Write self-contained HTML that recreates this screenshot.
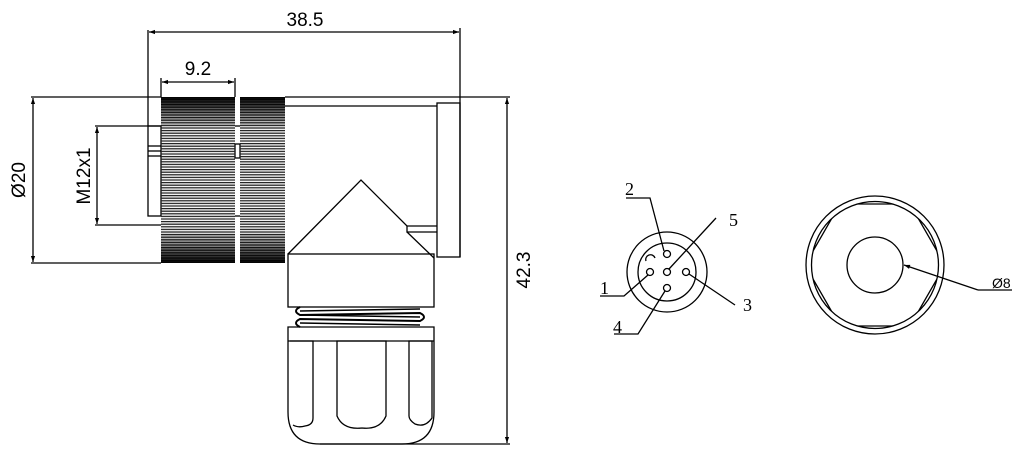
<!DOCTYPE html>
<html><head><style>
html,body{margin:0;padding:0;background:#fff;}
svg{display:block;}
text{font-family:"Liberation Sans",sans-serif;fill:#000;}
.s{font-family:"Liberation Serif",serif;}
</style></head><body>
<svg width="1024" height="455" viewBox="0 0 1024 455" xmlns="http://www.w3.org/2000/svg">
<defs>
<pattern id="kn" width="4" height="2.6" patternUnits="userSpaceOnUse">
<rect width="4" height="1.2" fill="#222"/>
</pattern>
<linearGradient id="sh" x1="0" y1="0" x2="0" y2="1">
<stop offset="0" stop-color="#000" stop-opacity="1"/>
<stop offset="0.08" stop-color="#000" stop-opacity="0.6"/>
<stop offset="0.2" stop-color="#000" stop-opacity="0.05"/>
<stop offset="0.8" stop-color="#000" stop-opacity="0.05"/>
<stop offset="0.92" stop-color="#000" stop-opacity="0.6"/>
<stop offset="1" stop-color="#000" stop-opacity="1"/>
</linearGradient>
<clipPath id="cc"><circle cx="875" cy="265" r="63.5"/></clipPath>
<marker id="a" viewBox="0 0 10 10" refX="10" refY="5" markerWidth="9" markerHeight="6" orient="auto-start-reverse" markerUnits="userSpaceOnUse"><path d="M0,1.5 L10,5 L0,8.5 z" fill="#000"/></marker>
</defs>
<g fill="none" stroke="#000" stroke-width="1.3">
<line x1="148" y1="30" x2="148" y2="126"/>
<line x1="460" y1="28" x2="460" y2="257"/>
<line x1="149" y1="32" x2="459" y2="32" marker-start="url(#a)" marker-end="url(#a)"/>
<line x1="161" y1="78" x2="161" y2="97"/>
<line x1="235" y1="78" x2="235" y2="97"/>
<line x1="162" y1="82" x2="234" y2="82" marker-start="url(#a)" marker-end="url(#a)"/>
<line x1="31" y1="97" x2="161" y2="97"/>
<line x1="31" y1="263" x2="161" y2="263"/>
<line x1="33" y1="98" x2="33" y2="262" marker-start="url(#a)" marker-end="url(#a)"/>
<line x1="95" y1="126" x2="161" y2="126"/>
<line x1="95" y1="225" x2="161" y2="225"/>
<line x1="97" y1="127" x2="97" y2="224" marker-start="url(#a)" marker-end="url(#a)"/>
<line x1="285" y1="97" x2="510" y2="97"/>
<line x1="320" y1="444" x2="510" y2="444"/>
<line x1="507" y1="98" x2="507" y2="443" marker-start="url(#a)" marker-end="url(#a)"/>
<rect x="148" y="126" width="13" height="90"/>
<line x1="148" y1="146" x2="161" y2="146"/><line x1="148" y1="151" x2="161" y2="151"/><line x1="148" y1="156" x2="161" y2="156"/>
<rect x="235" y="144" width="5" height="14"/>
<line x1="235" y1="216" x2="240" y2="216"/>
<line x1="235" y1="126" x2="240" y2="126"/>
<line x1="285" y1="106" x2="437" y2="106"/>
<rect x="437" y="103" width="23" height="154"/>
<polyline points="288,254 361,180 407,226 437,226"/>
<polyline points="407,226 407,232 437,232"/>
<polyline points="407,232 434,258"/>
<rect x="288" y="254" width="146" height="53"/>
<path d="M300,307 Q292,311 300,315 L420,313 Q428,317 420,321 L300,319 Q292,323 300,327" stroke-width="2"/>
<path d="M300,311 L420,309 M300,315 L420,317 M300,323 L420,325" stroke-width="1.5"/>
<path d="M288,327 L434,327 L434,412 Q434,444 402,444 L320,444 Q288,444 288,412 Z"/>
<line x1="288" y1="341" x2="434" y2="341"/>
<path d="M290,341 L313,341 L313,418 Q313,425 305,426 Q298,428 293,425"/>
<path d="M337,341 L386,341 L386,416 Q380,430 362,428 Q343,430 337,416 Z"/>
<path d="M409,341 L432,341 L432,418 Q425,428 415,424 Q409,420 409,416 Z"/>
<circle cx="667" cy="272" r="40"/>
<circle cx="667" cy="272" r="29"/>
<circle cx="667" cy="254" r="3.5"/>
<circle cx="650" cy="272" r="3.5"/>
<circle cx="667" cy="272" r="3.5"/>
<circle cx="686" cy="272" r="3.5"/>
<circle cx="667" cy="288" r="3.5"/>
<path d="M646,261 A4.5,4.5 0 1 1 655,258"/>
<polyline points="626,198 650,198 664,251"/>
<line x1="716" y1="218" x2="669" y2="269"/>
<polyline points="600,296 624,296 648,275"/>
<line x1="735" y1="305" x2="689" y2="274"/>
<polyline points="614,334 638,334 665,291"/>
<circle cx="875" cy="265" r="69"/>
<circle cx="875" cy="265" r="63.5"/>
<circle cx="875" cy="265" r="28"/>
<polygon clip-path="url(#cc)" points="840,204 910,204 945,265 910,326 840,326 805,265"/>
<line x1="978" y1="290" x2="1012" y2="290"/>
<line x1="978" y1="290" x2="904" y2="265" marker-end="url(#a)"/>
</g>
<rect x="161" y="97" width="74" height="166" fill="url(#kn)"/>
<rect x="161" y="97" width="74" height="166" fill="url(#sh)"/>
<rect x="240" y="97" width="45" height="166" fill="url(#kn)"/>
<rect x="240" y="97" width="45" height="166" fill="url(#sh)"/>
<text x="305" y="26" font-size="19" text-anchor="middle">38.5</text>
<text x="198" y="75" font-size="19" text-anchor="middle">9.2</text>
<text transform="translate(25,180) rotate(-90)" font-size="19" text-anchor="middle">Ø20</text>
<text transform="translate(90,176) rotate(-90)" font-size="19" text-anchor="middle">M12x1</text>
<text transform="translate(530,270) rotate(-90)" font-size="19" text-anchor="middle">42.3</text>
<text class="s" x="625" y="195" font-size="18">2</text>
<text class="s" x="729" y="226" font-size="18">5</text>
<text class="s" x="600" y="294" font-size="18">1</text>
<text class="s" x="743" y="311" font-size="18">3</text>
<text class="s" x="613" y="333" font-size="18">4</text>
<text x="992" y="288" font-size="14">Ø8</text>
</svg>
</body></html>
